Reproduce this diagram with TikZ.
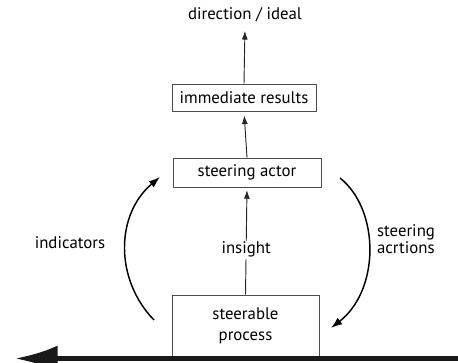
\documentclass[tikz,border=0pt]{standalone}
\usepackage{fontspec}
\setmainfont{PT Sans}
\usetikzlibrary{arrows.meta}
\begin{document}
\begin{tikzpicture}[x=0.75pt, y=-0.75pt,
    box/.style={draw=black!70, line width=0.6pt, inner sep=0pt, align=center, font=\fontsize{12.6}{16}\selectfont},
    lbl/.style={font=\fontsize{12.6}{13}\selectfont},
    thin/.style={draw=black!85, line width=0.7pt, -{Latex[length=6.5pt,width=4.5pt]}},
    loop/.style={draw=black, line width=1.1pt, -{Latex[length=8.5pt,width=6pt]}}]
    \useasboundingbox (0,0) rectangle (458,363);
    % boxes
    \node[box, minimum width=108pt, minimum height=20.25pt] (results) at (244,97.5) {immediate results};
    \node[box, minimum width=111pt, minimum height=21.75pt] (actor) at (247,172.5) {steering actor};
    \node[box, minimum width=110.25pt, minimum height=45.75pt] (process) at (245.5,325.5) {steerable\\process};
    \node[lbl] (direction) at (245,15) {direction / ideal};
    \node[lbl] (indicators) at (70,243) {indicators};
    \node[lbl, align=left] (actions) at (406,239) {steering\\acrtions};
    % vertical flow
    \draw[thin, shorten >=3pt] (results.north) -- (direction.south);
    \draw[thin, shorten >=3pt] (actor.north) -- (results.south);
    \draw[thin, shorten >=2pt] (process.north) -- node[pos=0.42, lbl, fill=white, inner sep=1pt] (insight) {insight} (actor.south);
    % feedback arcs
    \coordinate (indfrom) at (154,320);
    \coordinate (indto) at (160,177);
    \coordinate (actfrom) at (340,178);
    \coordinate (actto) at (331,328);
    \draw[loop] (indfrom) .. controls (115,280) and (115,215) .. (indto);
    \draw[loop] (actfrom) .. controls (380,210) and (380,290) .. (actto);
    % time line
    \coordinate (timestart) at (458,358.5);
    \coordinate (timeend) at (15,358.5);
    \draw[line width=3.75pt, black!90, -{Latex[length=32pt,width=19.5pt]}] (timestart) -- (timeend);
  \end{tikzpicture}
\end{document}
